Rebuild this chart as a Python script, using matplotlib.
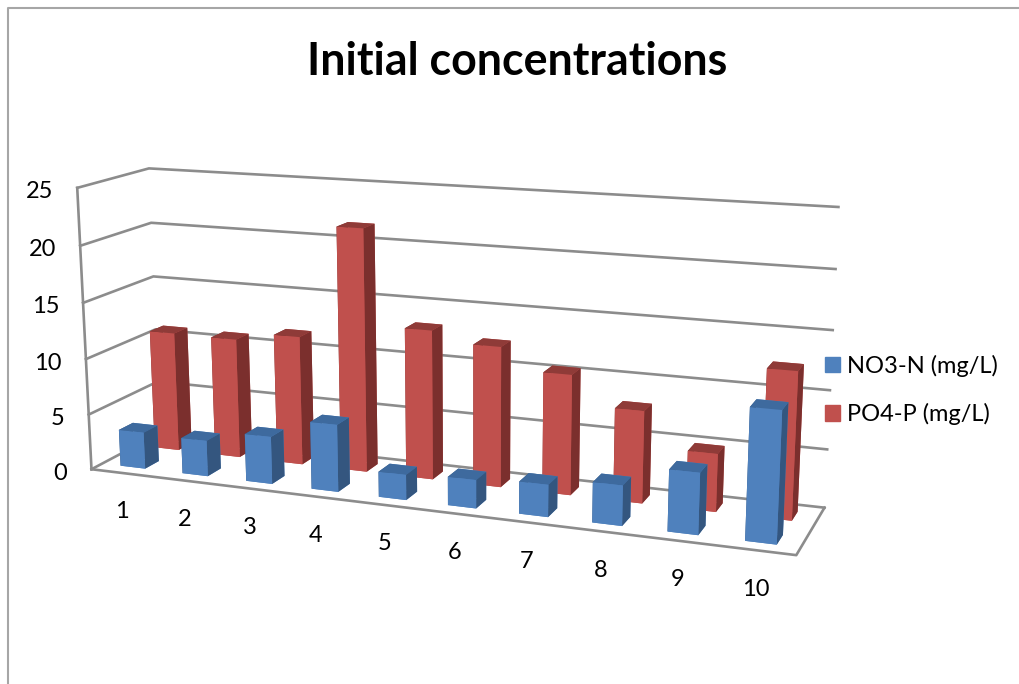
import matplotlib
matplotlib.use("Agg")
import matplotlib.pyplot as plt
from matplotlib.patches import Patch
from matplotlib.lines import Line2D
from mpl_toolkits.mplot3d import proj3d

plt.rcParams['font.family'] = ['Lato', 'DejaVu Sans']

categories = ['1', '2', '3', '4', '5', '6', '7', '8', '9', '10']
no3_n = [3.3, 3.2, 4.2, 5.9, 2.2, 2.45, 2.75, 3.4, 5.15, 10.85]
po4_p = [10.9, 10.85, 11.6, 21.6, 13.2, 12.3, 10.45, 7.95, 4.95, 12.45]
z_ticks = [0, 5, 10, 15, 20, 25]

W, H = 1019, 684
fig = plt.figure(figsize=(W / 100, H / 100), dpi=100)
ax = fig.add_axes([0.03789, -0.09854, 0.77631, 1.15651], projection='3d', computed_zorder=False)
ax.set_xlim(0.5, 10.5, view_margin=0)
ax.set_ylim(0, 1, view_margin=0)
ax.set_zlim(0, 25, view_margin=0)
ax.set_box_aspect((1, 0.194, 0.402))
ax.view_init(13.706, -68.738, 0.226)
ax.set_proj_type('persp', focal_length=0.439)
ax.set_axis_off()
ax.patch.set_alpha(0)
M = ax.get_proj()

grid = '#8c8c8c'
for val in z_ticks:
    ax.plot([0.5, 0.5, 10.5], [0, 1, 1], [val, val, val], color=grid, lw=1.9, zorder=1, clip_on=False)
ax.plot([0.5, 0.5], [0, 0], [0, 25], color=grid, lw=1.9, zorder=1, clip_on=False)
ax.plot([0.5, 10.5, 10.5], [0, 0, 1], [0, 0, 0], color=grid, lw=1.9, zorder=1, clip_on=False)

# faces: bottom, top, front, back, left, right
blue = ['#4f81bd', '#3e6a9e', '#4f81bd', '#4f81bd', '#34567f', '#34567f']
red = ['#c0504d', '#8f3b38', '#c0504d', '#c0504d', '#7b2f2d', '#7b2f2d']
z = 2
for vals, y0, cols in [(po4_p, 0.65, red), (no3_n, 0.15, blue)]:
    for i, val in enumerate(vals):
        bar = ax.bar3d(i + 1 - 0.2, y0, 0, 0.4, 0.2, val, color=cols, shade=False, zorder=z)
        bar.set_clip_on(False)
        z += 1

for val in z_ticks:
    u, w, _ = proj3d.proj_transform(0.5, 0, val, M)
    ax.annotate(str(val), (u, w), xytext=(-24 * 0.72, -4 * 0.72), textcoords='offset points',
                ha='right', va='center', fontsize=17, color='black')
for i, lab in enumerate(categories):
    u, w, _ = proj3d.proj_transform(i + 1, 0, 0, M)
    ax.annotate(lab, (u, w), xytext=(0, -39 * 0.72), textcoords='offset points',
                ha='center', va='center', fontsize=17, color='black')

fig.text(517 / W, 1 - 62 / H, 'Initial concentrations', ha='center', va='center',
         fontsize=32.2, fontweight='bold', color='black')
fig.legend(handles=[Patch(color='#4f81bd', label='NO3-N (mg/L)'),
                    Patch(color='#c0504d', label='PO4-P (mg/L)')],
           loc='center left', bbox_to_anchor=(825 / W, 1 - 390 / H), frameon=False,
           fontsize=17, handlelength=0.63, handleheight=0.63, handletextpad=0.3,
           labelspacing=1.1, borderpad=0, borderaxespad=0)

fig.add_artist(Line2D([8 / W, 8 / W, 1], [0, 1 - 8 / H, 1 - 8 / H], color='#a6a6a6', lw=1.5))
fig.savefig('out.png', dpi=100)
